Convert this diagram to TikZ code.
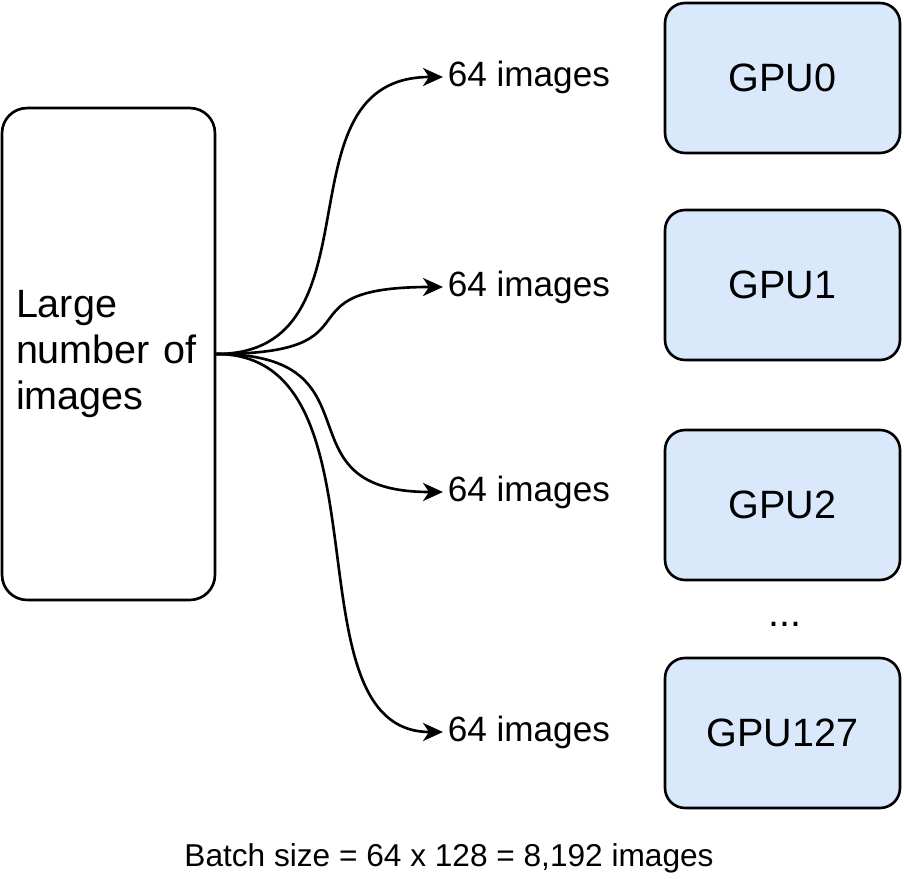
\documentclass[tikz,border=0pt]{standalone}
\usepackage{fontspec}
\setmainfont{Liberation Sans}
\usepackage{tikz}
\usetikzlibrary{positioning}
\usetikzlibrary{shapes,arrows,arrows.meta}
\definecolor{gpuBlue}{HTML}{DAE8FC}

\begin{document}
\begin{tikzpicture} [>={Stealth[length=0.4cm, width=0.36cm, inset=0.12cm]}, x=0.02cm, y=-0.02cm, line width=1.5pt]
            % Set primary nodes
            \tikzset{
                sourceNode/.style={
                        draw,
                        rectangle,
                        rounded corners=0.5cm,
                        minimum height=9.84cm,
                        text width=3.7cm,
                        inner xsep=0.28cm,
                        align=left,
                        font=\fontsize{22.5}{26}\selectfont
                    }
            }
            \tikzset{
                gpuNode/.style={
                        draw,
                        rectangle,
                        rounded corners=0.4cm,
                        fill=gpuBlue,
                        minimum width=4.7cm,
                        minimum height=3cm,
                        font=\fontsize{22.5}{26}\selectfont
                    }
            }
            \tikzset{
                batchNode/.style={
                        anchor=west,
                        inner sep=2pt,
                        font=\fontsize{20}{24}\selectfont
                    }
            }
            \tikzset{
                captionNode/.style={
                        font=\fontsize{18}{22}\selectfont
                    }
            }
            \useasboundingbox (0,0) rectangle (904,879);
            % Placing nodes
            \node[sourceNode](images) at (108.5,354){Large\\number of\\images};
            \node[gpuNode](gpu0) at (782.5,78){GPU0};
            \node[gpuNode](gpu1) at (782.5,285){GPU1};
            \node[gpuNode](gpu2) at (782.5,505){GPU2};
            \node[gpuNode](gpu127) at (782.5,733){GPU127};
            \node[gpuNode, draw=none, fill=none, minimum height=0cm](dots) at (785,624){...};
            \node[batchNode](b0) at (443,77){64 images};
            \node[batchNode](b1) at (443,287){64 images};
            \node[batchNode](b2) at (443,492){64 images};
            \node[batchNode](b127) at (443,732){64 images};
            \node[captionNode](batch) at (449,858){Batch size = 64 x 128 = 8,192 images};
            % Placing arrows
            \draw[->](images.east) .. controls +(170,0) and +(-170,0) .. (b0.west);
            \draw[->](images.east) .. controls +(170,0) and +(-170,0) .. (b1.west);
            \draw[->](images.east) .. controls +(170,0) and +(-170,0) .. (b2.west);
            \draw[->](images.east) .. controls +(180,0) and +(-160,0) .. (b127.west);
        \end{tikzpicture}
\end{document}
